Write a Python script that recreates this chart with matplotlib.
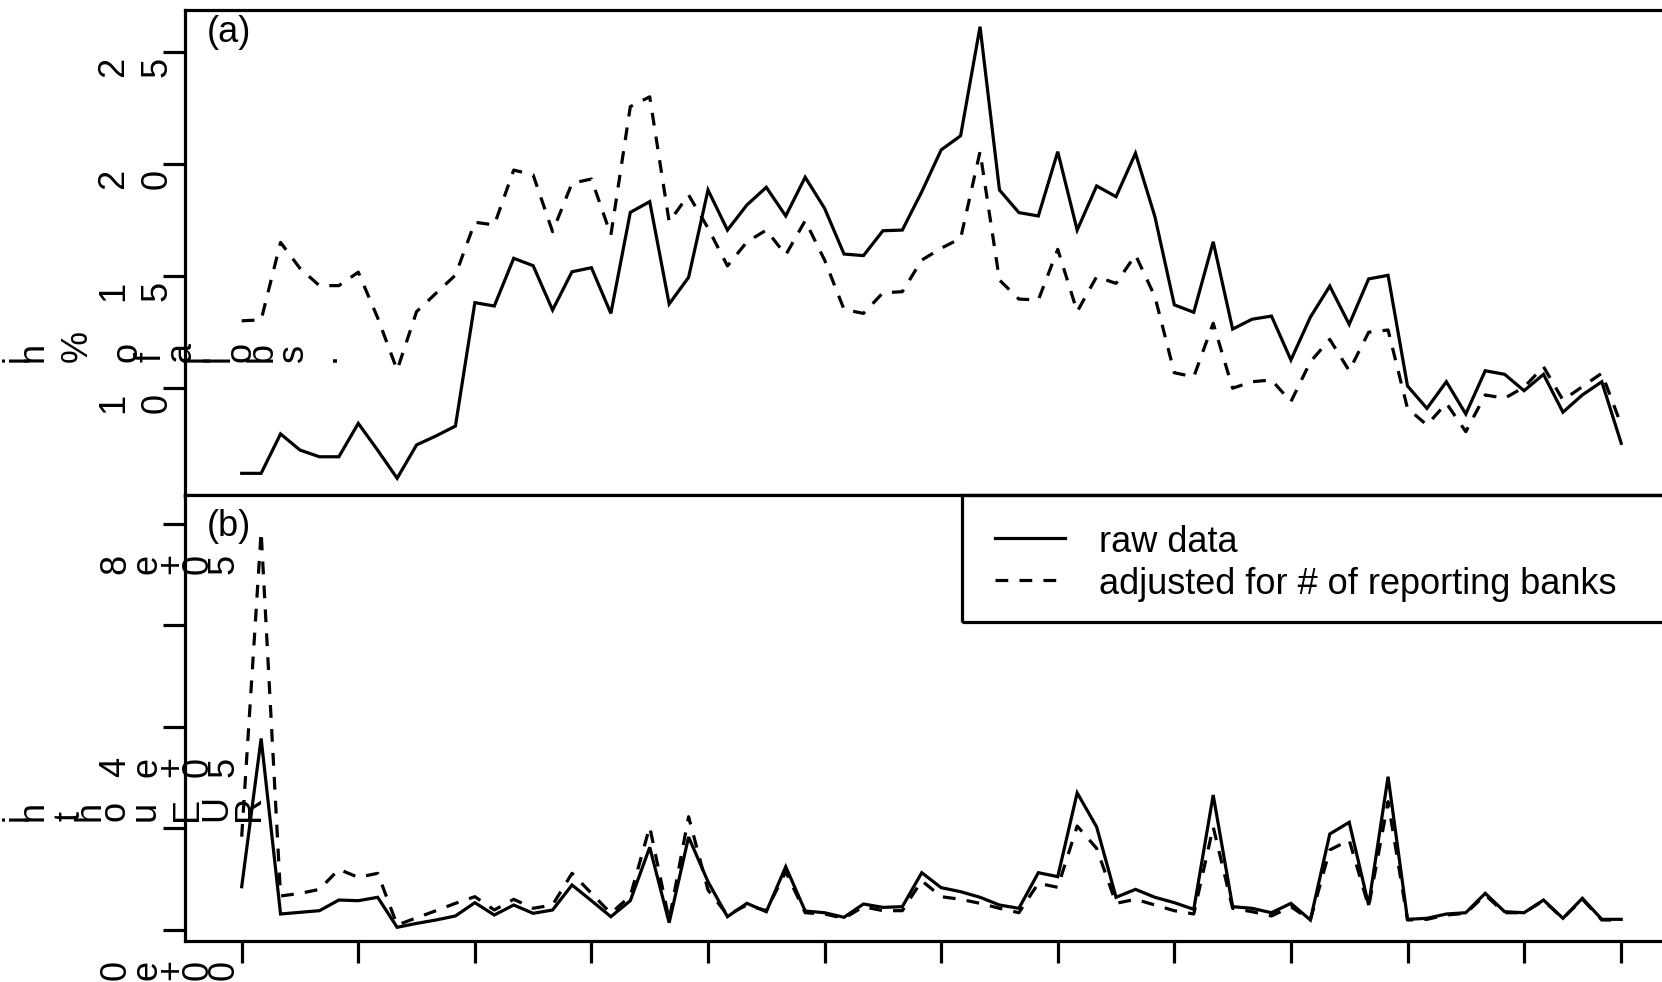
import numpy as np
import matplotlib
matplotlib.use("Agg")
import matplotlib.pyplot as plt
import matplotlib.transforms as mtransforms
from matplotlib.lines import Line2D
from matplotlib.patches import Rectangle

plt.rcParams['font.family'] = ['Liberation Sans', 'DejaVu Sans']

# panel (a): share in % of all obs.
raw_share = [6.19, 6.19, 7.95, 7.23, 6.93, 6.93, 8.42, 7.22, 5.97, 7.46,
             7.86, 8.30, 13.81, 13.66, 15.79, 15.46, 13.48, 15.19, 15.37, 13.33,
             17.84, 18.32, 13.75, 14.94, 18.84, 17.05, 18.17, 18.96, 17.68, 19.41,
             18.02, 15.98, 15.91, 17.02, 17.05, 18.76, 20.63, 21.26, 26.13, 18.84,
             17.83, 17.68, 20.55, 17.05, 19.02, 18.54, 20.48, 17.65, 13.71, 13.38,
             16.53, 12.63, 13.07, 13.21, 11.25, 13.16, 14.55, 12.84, 14.87, 15.03,
             10.09, 9.09, 10.28, 8.84, 10.77, 10.61, 9.88, 10.61, 8.92, 9.69,
             10.28, 7.53]
adj_share = [13.00, 13.04, 16.50, 15.34, 14.57, 14.57, 15.17, 13.13, 10.80, 13.41,
             14.23, 15.04, 17.40, 17.28, 19.73, 19.51, 16.98, 19.14, 19.33, 16.83,
             22.56, 23.00, 17.42, 18.62, 17.14, 15.45, 16.52, 17.05, 15.94, 17.47,
             15.71, 13.51, 13.33, 14.25, 14.30, 15.71, 16.24, 16.68, 20.55, 14.82,
             13.97, 13.93, 16.19, 13.41, 14.97, 14.67, 15.94, 14.08, 10.68, 10.50,
             12.89, 9.99, 10.28, 10.36, 9.39, 11.17, 12.17, 10.77, 12.49, 12.59,
             9.09, 8.35, 9.32, 8.05, 9.69, 9.54, 10.04, 10.95, 9.46, 10.06,
             10.66, 8.35]

# panel (b): volume in thousand EUR
raw_vol = [85.2, 377, 31.5, 34.8, 38, 59, 57.7, 64.4, 5.3, 13,
           19.7, 27.6, 53.8, 29.5, 49.2, 32.8, 39.4, 88.6, 57.7, 26.2,
           57.7, 162.8, 14.4, 183, 95, 26.2, 52.5, 36, 124.6, 37.4,
           34, 25, 51.2, 44.5, 45.9, 112.8, 83.3, 75.4, 64.4, 49.2,
           42.7, 112.8, 105, 270, 203, 64.4, 80, 64.4, 53.8, 40.7,
           265.7, 45.9, 42.7, 34, 52.5, 19.7, 189, 212, 49.2, 301.8,
           21, 23, 31.5, 34, 72.2, 36, 34, 59, 23, 62.4,
           21, 21]
adj_vol = [183.7, 784, 67, 72, 80, 119.5, 103.7, 111.6, 9.8, 24,
           38, 52.5, 65.6, 39.4, 60.4, 42.7, 49.2, 111.6, 72.2, 32.8,
           67, 203, 19.7, 223, 78.7, 29.5, 49.2, 38, 114.8, 34,
           31.5, 23, 45.9, 38, 38, 97, 65.6, 60.4, 52.5, 42.7,
           34, 92, 84, 204.7, 160.8, 52.5, 60.4, 49.2, 38, 31.5,
           203, 42.7, 36, 27.6, 45.9, 19.7, 157.5, 177, 45.9, 252.6,
           19.7, 21, 29.5, 32.8, 68.9, 34, 34, 57.7, 23, 60.4,
           19.7, 19.7]

share_ticks = [10, 15, 20, 25]
vol_ticks = [0, 2e5, 4e5, 6e5, 8e5]
vol_labels = {0: "0e+00", 4e5: "4e+05", 8e5: "8e+05"}
time_ticks = [0, 6, 12, 18, 24, 30, 36, 42, 48, 54, 60, 66, 71]
legend_labels = ["raw data", "adjusted for # of reporting banks"]

W, H = 1662, 982
LW = 2.3
DASH = (0, (4, 3.5))
FS = 26

fig = plt.figure(figsize=(W / 100, H / 100), dpi=100)
ax_a = fig.add_axes([185 / W, 1 - 495 / H, (1700 - 185) / W, (495 - 10) / H])
ax_b = fig.add_axes([185 / W, 1 - 941 / H, (1700 - 185) / W, (941 - 495) / H])

x = np.arange(len(raw_share))
xl = ((185 - 241.7) / 19.43, (1700 - 241.7) / 19.43)

ax_a.plot(x, raw_share, color='black', lw=LW, solid_joinstyle='miter')
ax_a.plot(x, adj_share, color='black', lw=LW, linestyle=DASH)
ax_b.plot(x, np.array(raw_vol) * 1e3, color='black', lw=LW, solid_joinstyle='miter')
ax_b.plot(x, np.array(adj_vol) * 1e3, color='black', lw=LW, linestyle=DASH)

ax_a.set_xlim(*xl)
ax_b.set_xlim(*xl)
ax_a.set_ylim(10 - 107 / 22.4, 10 + 378 / 22.4)
ax_b.set_ylim(-11 / 101.6 * 2e5, 435 / 101.6 * 2e5)

for ax in (ax_a, ax_b):
    for s in ax.spines.values():
        s.set_linewidth(LW)
    ax.tick_params(axis='y', length=16, width=LW, direction='out', labelleft=False)
    ax.tick_params(axis='x', width=LW, direction='out', labelbottom=False)

ax_a.set_yticks(share_ticks)
ax_a.set_xticks([xl[0], 37.07])
ax_a.tick_params(axis='x', length=3)
ax_b.set_yticks(vol_ticks)
ax_b.set_xticks(time_ticks)
ax_b.tick_params(axis='x', length=16)


def rot_chars(ax, yval, chars, xs, drop):
    trans = mtransforms.blended_transform_factory(fig.transFigure, ax.transData) + \
        mtransforms.ScaledTranslation(0, -drop / 100, fig.dpi_scale_trans)
    for ch, px in zip(chars, xs):
        fig.text(px / W, yval, ch, transform=trans, rotation=90, fontsize=FS,
                 ha='center', va='bottom', zorder=5)


# tick labels, drawn glyph by glyph like the original device output
for t in share_ticks:
    rot_chars(ax_a, t, str(t), [114, 157], 25)
for t, lab in vol_labels.items():
    rot_chars(ax_b, t, lab, [116, 147, 172, 198, 224], 50)


def fig_chars(text, xs, bottom):
    chars = [c for c in text if c != " "]
    for ch, px in zip(chars, xs):
        fig.text(px / W, 1 - bottom / H, ch, rotation=90, fontsize=FS,
                 ha='center', va='bottom', zorder=5)


fig_chars("in % of all obs.", [18, 33, 77, 127, 151, 181, 199, 219, 241, 262, 293, 325], 362)
fig_chars("in thou EUR", [18, 33, 70, 90, 115, 145, 188, 217, 250], 821)

fig.text(229 / W, 1 - 32 / H, "(a)", fontsize=FS, ha='center', va='center')
fig.text(229 / W, 1 - 527 / H, "(b)", fontsize=FS, ha='center', va='center')

# legend box
fig.patches.append(Rectangle((962 / W, 1 - 622 / H), (1750 - 962) / W, (622 - 495) / H,
                             transform=fig.transFigure, fill=False, ec='black', lw=LW,
                             clip_on=False, zorder=4))
fig.add_artist(Line2D([995 / W, 1065 / W], [1 - 537.7 / H] * 2, transform=fig.transFigure,
                      color='black', lw=LW))
fig.add_artist(Line2D([995 / W, 1065 / W], [1 - 580 / H] * 2, transform=fig.transFigure,
                      color='black', lw=LW, linestyle=DASH))
fig.text(1099 / W, 1 - 552 / H, legend_labels[0], fontsize=FS, va='baseline')
fig.text(1099 / W, 1 - 594 / H, legend_labels[1], fontsize=FS, va='baseline')

fig.savefig("out.png", dpi=100)
